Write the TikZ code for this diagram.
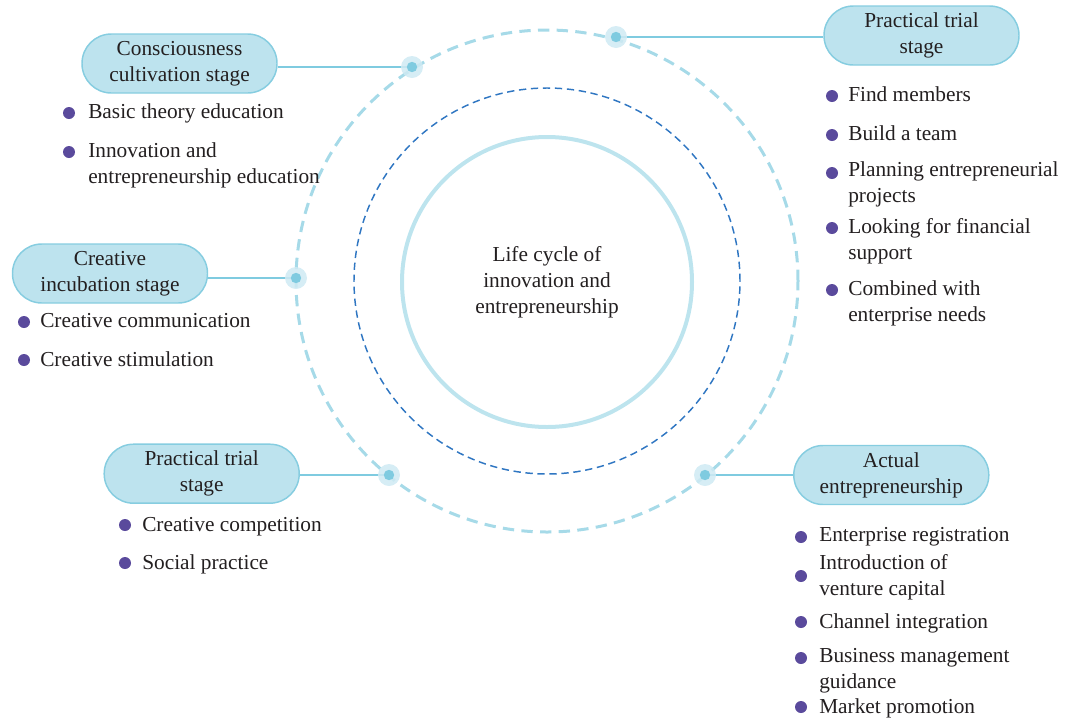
\documentclass[tikz,border=0pt]{standalone}
\usepackage{fontspec}
\setmainfont{Liberation Serif}
\definecolor{txt}{HTML}{231F20}
\definecolor{pillfill}{HTML}{BDE3EE}
\definecolor{pillline}{HTML}{86CDE0}
\definecolor{conn}{HTML}{7FCBE0}
\definecolor{halo}{HTML}{CFEAF3}
\definecolor{outerc}{HTML}{A6DAE8}
\definecolor{innerc}{HTML}{BDE4EE}
\definecolor{darkdash}{HTML}{2F76C2}
\definecolor{bul}{HTML}{5A4A9C}
\newcommand{\mylines}[1]{\begin{tabular}[t]{@{}l@{}}#1\end{tabular}}
\tikzset{
  basefont/.style={font=\fontsize{16}{19.5}\selectfont, text=txt},
  pill/.style={basefont, draw=pillline, line width=1.1pt, fill=pillfill,
    rounded corners=22pt, minimum width=146.25pt, minimum height=44.25pt,
    inner sep=0pt, align=center},
  item/.style={basefont, anchor=base west, inner sep=0pt},
  bulletdot/.style={circle, fill=bul, inner sep=0pt, minimum size=9pt},
  conline/.style={draw=conn, line width=1.5pt},
}
\begin{document}
\begin{tikzpicture}[x=0.75pt,y=-0.75pt]
\useasboundingbox (0,0) rectangle (1065,722);
% circles
\coordinate (ctr) at (547,281);
\draw[outerc, line width=2.25pt, dash pattern=on 8.5pt off 5.5pt] (ctr) circle[radius=188.25pt];
\draw[darkdash, line width=1.1pt, dash pattern=on 5.5pt off 3.5pt] (ctr) circle[radius=144.75pt];
\draw[innerc, line width=3pt] (547,282) circle[radius=108.75pt];
\node[basefont, align=center, inner sep=0pt] (core) at (547,282)
  {Life cycle of\\innovation and\\entrepreneurship};

% stage pills
\node[pill] (c1) at (179.5,63.5) {Consciousness\\cultivation stage};
\node[pill] (c2) at (921.5,35.5) {Practical trial\\stage};
\node[pill] (c3) at (110,273.5) {Creative\\incubation stage};
\node[pill] (c4) at (201.7,473.7) {Practical trial\\stage};
\node[pill] (c5) at (891.3,475) {Actual\\entrepreneurship};

% dots on the outer circle
\coordinate (d1) at (412,67);
\coordinate (d2) at (616,37);
\coordinate (d3) at (296,278);
\coordinate (d4) at (389,475);
\coordinate (d5) at (705,475);
\draw[conline] (d1) -- (d1 -| c1.east);
\draw[conline] (d2) -- (d2 -| c2.west);
\draw[conline] (d3) -- (d3 -| c3.east);
\draw[conline] (d4) -- (d4 -| c4.east);
\draw[conline] (d5) -- (d5 -| c5.west);
\foreach \n in {d1,d2,d3,d4,d5}{
  \fill[halo, fill opacity=0.85] (\n) circle[radius=8.25pt];
  \fill[conn] (\n) circle[radius=3.9pt];
}

% list: consciousness cultivation
\node[item] (a1) at (88,118) {Basic theory education};
\node[item] (a2) at (88,157) {\mylines{Innovation and\\entrepreneurship education}};
\node[bulletdot] (ab1) at (69,113) {};
\node[bulletdot] (ab2) at (69,152) {};

% list: practical trial (top right)
\node[item] (b1) at (848,101) {Find members};
\node[item] (b2) at (848,140) {Build a team};
\node[item] (b3) at (848,176) {\mylines{Planning entrepreneurial\\projects}};
\node[item] (b4) at (848,233) {\mylines{Looking for financial\\support}};
\node[item] (b5) at (848,295) {\mylines{Combined with\\enterprise needs}};
\node[bulletdot] (bb1) at (832,96) {};
\node[bulletdot] (bb2) at (832,135) {};
\node[bulletdot] (bb3) at (832,173) {};
\node[bulletdot] (bb4) at (832,228) {};
\node[bulletdot] (bb5) at (832,290) {};

% list: creative incubation
\node[item] (e1) at (40,327) {Creative communication};
\node[item] (e2) at (40,366) {Creative stimulation};
\node[bulletdot] (eb1) at (24,322) {};
\node[bulletdot] (eb2) at (24,360) {};

% list: practical trial (bottom left)
\node[item] (f1) at (142,531) {Creative competition};
\node[item] (f2) at (142,569) {Social practice};
\node[bulletdot] (fb1) at (125,525) {};
\node[bulletdot] (fb2) at (125,563) {};

% list: actual entrepreneurship
\node[item] (g1) at (819,541) {Enterprise registration};
\node[item] (g2) at (819,569) {\mylines{Introduction of\\venture capital}};
\node[item] (g3) at (819,628) {Channel integration};
\node[item] (g4) at (819,662) {\mylines{Business management\\guidance}};
\node[item] (g5) at (819,713) {Market promotion};
\node[bulletdot] (gb1) at (801,537) {};
\node[bulletdot] (gb2) at (801,576) {};
\node[bulletdot] (gb3) at (801,622) {};
\node[bulletdot] (gb4) at (801,658) {};
\node[bulletdot] (gb5) at (801,707) {};
\end{tikzpicture}
\end{document}
